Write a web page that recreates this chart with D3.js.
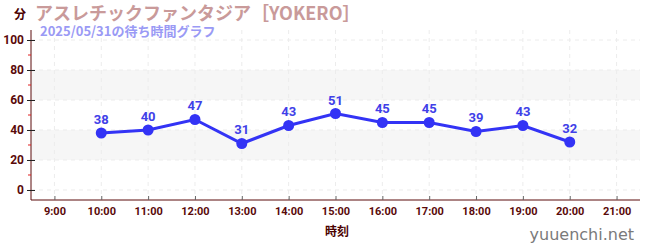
<!DOCTYPE html>
<html><head><meta charset="utf-8">
<script src="https://cdn.jsdelivr.net/npm/d3@7"></script>
<style>body{margin:0;background:#fff;}svg{display:block;font-family:"Noto Sans CJK JP","Noto Sans",sans-serif;}</style>
</head><body>
<svg id="c" width="650" height="250"></svg>
<script>
const hours = [10, 11, 12, 13, 14, 15, 16, 17, 18, 19, 20];
const waits = [38, 40, 47, 31, 43, 51, 45, 45, 39, 43, 32];
const xTickHours = [9, 10, 11, 12, 13, 14, 15, 16, 17, 18, 19, 20, 21];
const yTicks = [0, 20, 40, 60, 80, 100];
const yMinor = [10, 30, 50, 70, 90];
const bands = [[20, 40], [60, 80]];
const title = "アスレチックファンタジア［YOKERO］";
const subtitle = "2025/05/31の待ち時間グラフ";

const svg = d3.select("#c");
const L = 31, R = 640, T = 30, B = 200;
const x = d3.scaleLinear().domain([8.5, 21.5]).range([L, R]);
const y = d3.scaleLinear().domain([-6.67, 106.67]).range([B, T]);
const axisCol = "#5a0a0a";

// bands
svg.append("g").selectAll("rect").data(bands).join("rect")
  .attr("x", L).attr("width", R - L)
  .attr("y", d => y(d[1])).attr("height", d => y(d[0]) - y(d[1]))
  .attr("fill", "#f6f6f6");

// grid
const g = svg.append("g").attr("stroke", "#ececec").attr("stroke-dasharray", "4,4");
g.selectAll("line.h").data(yTicks).join("line")
  .attr("x1", L).attr("x2", R).attr("y1", d => y(d)).attr("y2", d => y(d));
g.selectAll("line.v").data(xTickHours).join("line")
  .attr("y1", T).attr("y2", B).attr("x1", d => x(d)).attr("x2", d => x(d));

// y axis
const ya = svg.append("g").attr("transform", `translate(${L},0)`)
  .call(d3.axisLeft(y).tickValues(yTicks).tickSize(4).tickPadding(3));
ya.select(".domain").attr("stroke", axisCol).attr("d", `M0,${T}V${B}`);
ya.selectAll(".tick line").attr("stroke", "#222").attr("x2", 4).attr("x1", -4);
ya.selectAll("text").attr("fill", axisCol).attr("font-size", 12).attr("font-weight", "bold")
  .attr("font-family", "Roboto, sans-serif");
svg.append("g").selectAll("line").data(yMinor).join("line")
  .attr("x1", L - 3).attr("x2", L).attr("y1", d => y(d)).attr("y2", d => y(d))
  .attr("stroke", "#e02020");

// x axis
const xa = svg.append("g").attr("transform", `translate(0,${B})`)
  .call(d3.axisBottom(x).tickValues(xTickHours).tickFormat(d => d + ":00").tickSize(4).tickPadding(3));
xa.select(".domain").attr("stroke", axisCol).attr("d", `M${L},0H${R}`);
xa.selectAll(".tick line").attr("stroke", "#666").attr("y1", -4).attr("y2", 0);
xa.selectAll("text").attr("fill", axisCol).attr("font-size", 11).attr("font-weight", "bold")
  .attr("font-family", "Roboto, sans-serif");

// line
const blue = "#3333f5";
svg.append("path").datum(hours.map((h, i) => [h, waits[i]]))
  .attr("fill", "none").attr("stroke", blue).attr("stroke-width", 3)
  .attr("d", d3.line().x(d => x(d[0])).y(d => y(d[1])));
svg.append("g").selectAll("circle").data(waits).join("circle")
  .attr("cx", (d, i) => x(hours[i])).attr("cy", d => y(d)).attr("r", 5.5).attr("fill", blue);
svg.append("g").selectAll("text").data(waits).join("text")
  .attr("x", (d, i) => x(hours[i])).attr("y", d => y(d) - 9)
  .attr("text-anchor", "middle").attr("fill", "#4040e8").attr("font-size", 13).attr("font-weight", "bold")
  .attr("font-family", "Roboto, sans-serif")
  .text(d => d);

// titles
svg.append("text").attr("x", 14).attr("y", 19).attr("fill", "#4a0000").attr("font-size", 12)
  .attr("font-weight", "bold").text("分");
svg.append("text").attr("x", 35).attr("y", 20).attr("fill", "#c99a9a").attr("font-size", 18)
  .attr("font-weight", "bold").text(title);
svg.append("text").attr("x", 40).attr("y", 36).attr("fill", "#9a9af5").attr("font-size", 13)
  .attr("font-weight", "bold").text(subtitle);
svg.append("text").attr("x", 337).attr("y", 236).attr("text-anchor", "middle").attr("fill", "#4a0000")
  .attr("font-size", 12).attr("font-weight", "bold").text("時刻");
svg.append("text").attr("x", 634).attr("y", 240).attr("text-anchor", "end").attr("fill", "#7a7a7a")
  .attr("font-size", 16).attr("font-family", "'DejaVu Sans', sans-serif").text("yuuenchi.net");
</script>
</body></html>
